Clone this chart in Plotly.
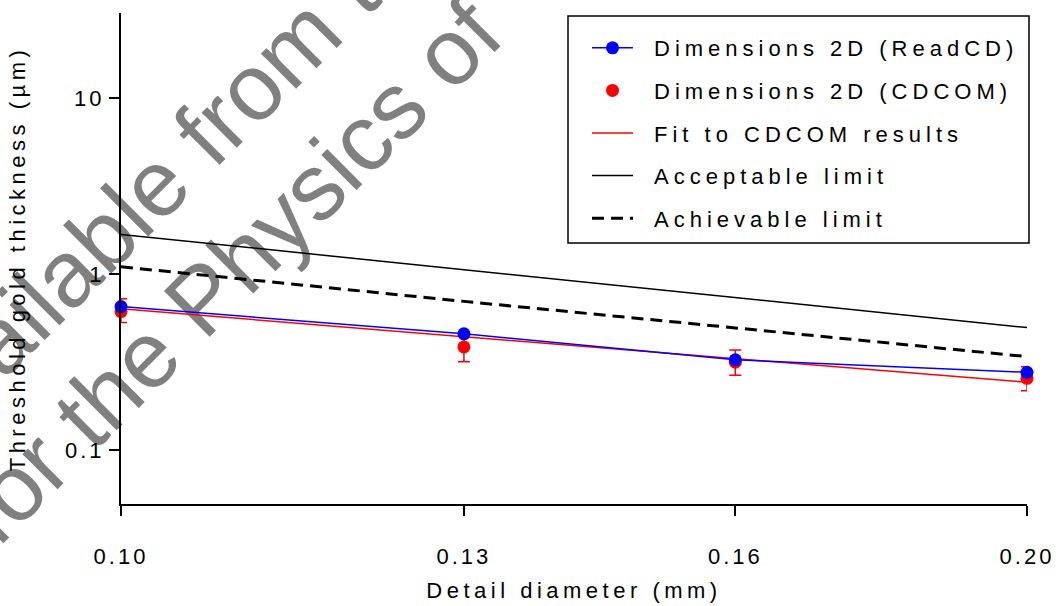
import plotly.graph_objects as go
import math

# ---- data ----
diameter = [0.10, 0.13, 0.16, 0.20]
diameter_labels = ["0.10", "0.13", "0.16", "0.20"]
readcd = [0.654, 0.458, 0.326, 0.277]
cdcom = [0.613, 0.386, 0.316, 0.256]
cdcom_err_plus = [0.111, 0.083, 0.055, 0.042]
cdcom_err_minus = [0.082, 0.068, 0.049, 0.038]
cdcom_fit = [0.635, 0.441, 0.331, 0.243]
acceptable = [1.68, 1.06, 0.73, 0.497]
achievable = [1.10, 0.70, 0.495, 0.340]
y_tickvals = [0.1, 1, 10]
y_ticktext = ["0.1", "1", "10"]
watermark_lines = ["available from the", "for the Physics of"]

FONT = "Liberation Sans, Arial, Helvetica, sans-serif"

fig = go.Figure()

fig.add_trace(go.Scatter(
    x=diameter, y=acceptable, mode="lines", name="Acceptable limit",
    line=dict(color="black", width=1.5), legendrank=4, legendgroup="g4",
    cliponaxis=False))
fig.add_trace(go.Scatter(
    x=diameter, y=achievable, mode="lines", name="Achievable limit",
    line=dict(color="black", width=3, dash="12px,7px"), legendrank=5,
    legendgroup="g5", cliponaxis=False))
fig.add_trace(go.Scatter(
    x=diameter, y=cdcom_fit, mode="lines", name="Fit to CDCOM results",
    line=dict(color="red", width=1.5), legendrank=3, legendgroup="g3",
    cliponaxis=False))
fig.add_trace(go.Scatter(
    x=diameter, y=cdcom, mode="markers", name="Dimensions 2D (CDCOM)",
    marker=dict(color="red", size=13),
    error_y=dict(type="data", array=cdcom_err_plus, arrayminus=cdcom_err_minus,
                 color="red", thickness=1.5, width=6),
    legendrank=2, legendgroup="g2", cliponaxis=False))
fig.add_trace(go.Scatter(
    x=diameter, y=readcd, mode="lines+markers", name="Dimensions 2D (ReadCD)",
    line=dict(color="blue", width=1.5), marker=dict(color="blue", size=13),
    legendrank=1, legendgroup="g1", cliponaxis=False))

# plot-area geometry in pixels (for paper-coordinate placement)
L, R, T, B = 121, 1027, 13, 504
def px(x):
    return (x - L) / (R - L)
def py(y):
    return (B - y) / (B - T)

shapes = []
# watermark (drawn below everything)
for txt, (cx, cy) in zip(watermark_lines, [(166, 160), (223, 265)]):
    shapes.append(dict(
        type="rect", xref="paper", yref="paper",
        x0=px(cx) - 0.0005, x1=px(cx) + 0.0005,
        y0=py(cy) - 0.0005, y1=py(cy) + 0.0005,
        line=dict(width=0), fillcolor="rgba(0,0,0,0)", layer="below",
        label=dict(text=txt, textangle=-45, textposition="middle center",
                   font=dict(family=FONT, size=94, color="#808080"))))
# legend frame
shapes.append(dict(
    type="rect", xref="paper", yref="paper",
    x0=px(568), x1=px(1029), y0=py(243), y1=py(16),
    line=dict(color="black", width=1.5), fillcolor="rgba(0,0,0,0)", layer="above"))

fig.update_layout(
    width=1056, height=606,
    margin=dict(l=L, r=1056 - R, t=T, b=606 - B, autoexpand=False),
    paper_bgcolor="white", plot_bgcolor="rgba(0,0,0,0)",
    font=dict(family=FONT, size=22, color="black"),
    showlegend=True,
    legend=dict(x=px(587), y=py(27), xanchor="left", yanchor="top",
                bgcolor="rgba(0,0,0,0)", borderwidth=0,
                font=dict(family=FONT, size=22, color="black"),
                itemwidth=41, traceorder="grouped", tracegroupgap=11,
                itemclick=False),
    shapes=shapes,
)

fig.update_xaxes(
    type="log", range=[math.log10(0.10), math.log10(0.20)],
    tickvals=diameter, ticktext=diameter_labels,
    showline=True, linecolor="black", linewidth=2, mirror=False,
    ticks="outside", ticklen=10, tickwidth=2, tickcolor="black",
    showgrid=False, zeroline=False, ticklabelstandoff=22,
    tickfont=dict(family=FONT, size=22),
    title=dict(text="Detail diameter (mm)", standoff=14,
               font=dict(family=FONT, size=22)))
fig.update_yaxes(
    type="log", range=[-1.305, 1.482],
    tickvals=y_tickvals, ticktext=y_ticktext,
    showline=True, linecolor="black", linewidth=2,
    ticks="outside", ticklen=10, tickwidth=2, tickcolor="black",
    showgrid=False, zeroline=False,
    tickfont=dict(family=FONT, size=22),
    title=dict(text="Threshold gold thickness (µm)", standoff=42,
               font=dict(family=FONT, size=22)))

css = ("body{margin:0 !important;}"
       ".legend .scrollbox{clip-path:none !important;}"
       ".legendtext{letter-spacing:5px;transform:translateX(16px);}"
       ".xtitle,.ytitle{letter-spacing:4.5px;}"
       ".xaxislayer-above text,.yaxislayer-above text{letter-spacing:3px;}")
post = ("var s=document.createElement('style');s.textContent=\"" + css +
        "\";document.head.appendChild(s);document.body.style.margin='0';")

fig.write_html("out.html", post_script=post,
               config={"displayModeBar": False, "staticPlot": False})
